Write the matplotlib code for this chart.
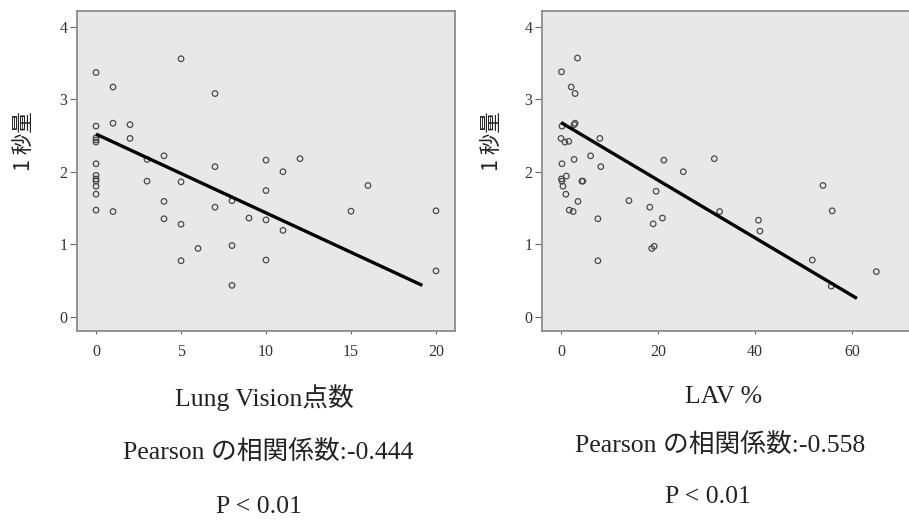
import matplotlib
matplotlib.use("Agg")
import matplotlib.pyplot as plt

# ---- data: left panel (Lung Vision score vs 1-second volume) ----
lv_x = [0, 0, 0, 0, 0, 0, 0, 0, 0, 0, 0, 0,
        1, 1, 1, 2, 2, 3, 3, 4, 4, 4,
        5, 5, 5, 5, 6, 7, 7, 7, 8, 8, 8, 9,
        10, 10, 10, 10, 11, 11, 12, 15, 16, 20, 20]
lv_y = [3.37, 2.63, 2.47, 2.44, 2.41, 2.11, 1.95, 1.90, 1.87, 1.80, 1.69, 1.47,
        3.17, 2.67, 1.45, 2.65, 2.46, 2.17, 1.87, 2.22, 1.59, 1.35,
        3.56, 1.86, 1.275, 0.77, 0.94, 3.08, 2.07, 1.51, 1.60, 0.98, 0.43, 1.36,
        2.16, 1.74, 1.335, 0.78, 2.00, 1.19, 2.18, 1.455, 1.81, 1.46, 0.63]
lv_fit_x = [0, 19.2]
lv_fit_y = [2.52, 0.43]

# ---- data: right panel (LAV % vs 1-second volume) ----
lav_x = [0.1, 3.4, 2.1, 2.9, 0.2, 2.7, 2.9, 0.0, 0.8, 1.6, 8.0, 6.1, 2.7, 8.2,
         0.2, 1.1, 0.1, 0.2, 0.4, 1.0, 4.3, 4.5, 3.5, 1.7, 2.5, 7.6, 7.6,
         14.0, 18.3, 19.0, 19.6, 18.7, 19.2, 20.9, 21.2, 25.2, 31.6, 32.7,
         40.7, 41.0, 51.8, 54.0, 55.9, 55.7, 65.0]
lav_y = [3.38, 3.57, 3.17, 3.08, 2.63, 2.65, 2.67, 2.46, 2.41, 2.42, 2.46, 2.22, 2.17, 2.07,
         2.11, 1.94, 1.90, 1.87, 1.80, 1.69, 1.87, 1.87, 1.59, 1.47, 1.45, 1.35, 0.77,
         1.60, 1.51, 1.28, 1.73, 0.94, 0.97, 1.36, 2.16, 2.00, 2.18, 1.45,
         1.33, 1.18, 0.78, 1.81, 1.46, 0.42, 0.62]
lav_fit_x = [0, 61.0]
lav_fit_y = [2.68, 0.25]

lv_xticks = [0, 5, 10, 15, 20]
lav_xticks = [0, 20, 40, 60]
yticks = [0, 1, 2, 3, 4]

ylabel = "1 秒量"
left_texts = ["Lung Vision点数", "Pearson の相関係数:-0.444", "P < 0.01"]
right_texts = ["LAV %", "Pearson の相関係数:-0.558", "P < 0.01"]

W, H = 909, 520
fig = plt.figure(figsize=(W / 100, H / 100), dpi=100)
fig.patch.set_facecolor("white")

serif_cjk = ["Liberation Serif", "Noto Sans CJK JP"]
sans_cjk = ["Noto Sans CJK JP", "DejaVu Sans"]


def make_ax(left_px, xlim, xs, ys, fx, fy, xticks, ylab_x):
    ax = fig.add_axes([left_px / W, 1 - 331 / H, 378 / W, 320 / H])
    ax.set_facecolor("#e8e8e8")
    ax.scatter(xs, ys, s=16, facecolors="none", edgecolors="#4a4a4a",
               linewidths=0.9, zorder=3)
    ax.plot(fx, fy, color="black", lw=2.4, zorder=4, solid_capstyle="butt")
    ax.set_xlim(*xlim)
    ax.set_ylim(-0.2, 4.22)
    ax.set_xticks(xticks)
    ax.set_yticks(yticks)
    for lab in ax.get_xticklabels() + ax.get_yticklabels():
        lab.set_family(serif_cjk)
        lab.set_fontsize(11.5)
        lab.set_color("#333333")
    ax.tick_params(axis="y", length=5, width=0.8, color="#666666", pad=2)
    ax.tick_params(axis="x", length=2, width=0.8, color="#666666", pad=7)
    for sp in ax.spines.values():
        sp.set_color("#8c8c8c")
        sp.set_linewidth(1.3)
    fig.text(ylab_x / W, 1 - 141 / H, ylabel, rotation=90, ha="center",
             va="center", family=sans_cjk, fontsize=15.5, color="#222222")
    return ax


make_ax(77, (-1.12, 21.12), lv_x, lv_y, lv_fit_x, lv_fit_y, lv_xticks, 24)
make_ax(542, (-3.92, 74.0), lav_x, lav_y, lav_fit_x, lav_fit_y, lav_xticks, 492)

left_pos = [(264, 398), (268, 452), (259, 507)]
right_pos = [(724, 397), (720, 445), (708, 497)]
for txt, (x, y) in zip(left_texts, left_pos):
    fig.text(x / W, 1 - y / H, txt, ha="center", va="center",
             family=serif_cjk, fontsize=18.5, color="#222222")
for txt, (x, y) in zip(right_texts, right_pos):
    fig.text(x / W, 1 - y / H, txt, ha="center", va="center",
             family=serif_cjk, fontsize=18.5, color="#222222")

fig.savefig("out.png", dpi=100, facecolor="white")
